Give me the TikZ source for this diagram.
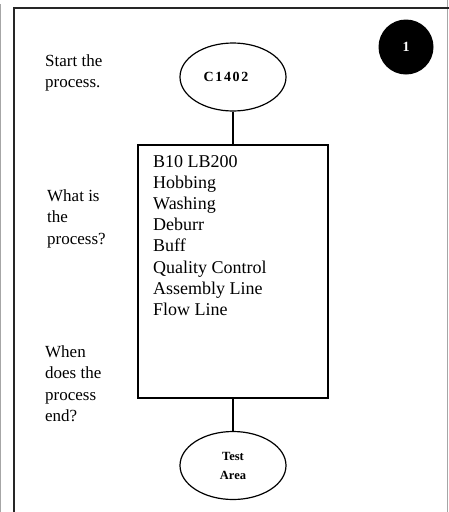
\documentclass[tikz,border=0pt]{standalone}
\usepackage{fontspec}
\setmainfont{Liberation Serif}
\usetikzlibrary{shapes.geometric}
\begin{document}
\begin{tikzpicture}[x=1pt,y=-1pt,
  frameline/.style={line width=1.8pt,draw=black!85},
  edgeline/.style={line width=0.8pt,draw=black!35},
  terminal/.style={ellipse,draw,line width=1.2pt,minimum width=106pt,minimum height=68pt,inner sep=0pt,align=center},
  procbox/.style={rectangle,draw,line width=1.6pt,minimum width=190pt,minimum height=253pt,inner sep=0pt},
  link/.style={line width=1.6pt},
  question/.style={anchor=base west,align=left,inner sep=0pt,font=\fontsize{17}{21.5}\selectfont},
  steps/.style={anchor=base west,align=left,inner sep=0pt,font=\fontsize{18}{21.2}\selectfont}
]
\useasboundingbox (0,0) rectangle (448,512);
\fill[white] (0,0) rectangle (448,512);

% page edges and outer frame
\draw[edgeline] (0.5,4) -- (0.5,512);
\draw[edgeline] (447.5,0) -- (447.5,512);
\draw[frameline] (14,513) -- (14,8) -- (449,8);

% step number badge
\node[circle,fill=black,minimum size=55pt,inner sep=0pt,text=white,font=\fontsize{14}{14}\selectfont\bfseries] (badge) at (406,47) {1};

% flow shapes
\node[terminal,font=\fontsize{14}{14}\selectfont\bfseries\addfontfeature{LetterSpace=12}] (start) at (233,77) {C1402\hspace*{14pt}};
\node[procbox] (proc) at (233,271.5) {};
\node[terminal,font=\fontsize{12.5}{19}\selectfont\bfseries] (finish) at (233,465.5) {Test\\Area};

% multi-line nodes are placed by the baseline of their last line
\node[steps] (steplist) at (153,315.5) {B10 LB200\\Hobbing\\Washing\\Deburr\\Buff\\Quality Control\\Assembly Line\\Flow Line};

% connectors
\draw[link] (start.south) -- (proc.north);
\draw[link] (proc.south) -- (finish.north);

% guiding questions
\node[question] (q1) at (45,87.5) {Start the\\process.};
\node[question] (q2) at (47,244) {What is\\the\\process?};
\node[question] (q3) at (45,421.5) {When\\does the\\process\\end?};
\end{tikzpicture}
\end{document}
